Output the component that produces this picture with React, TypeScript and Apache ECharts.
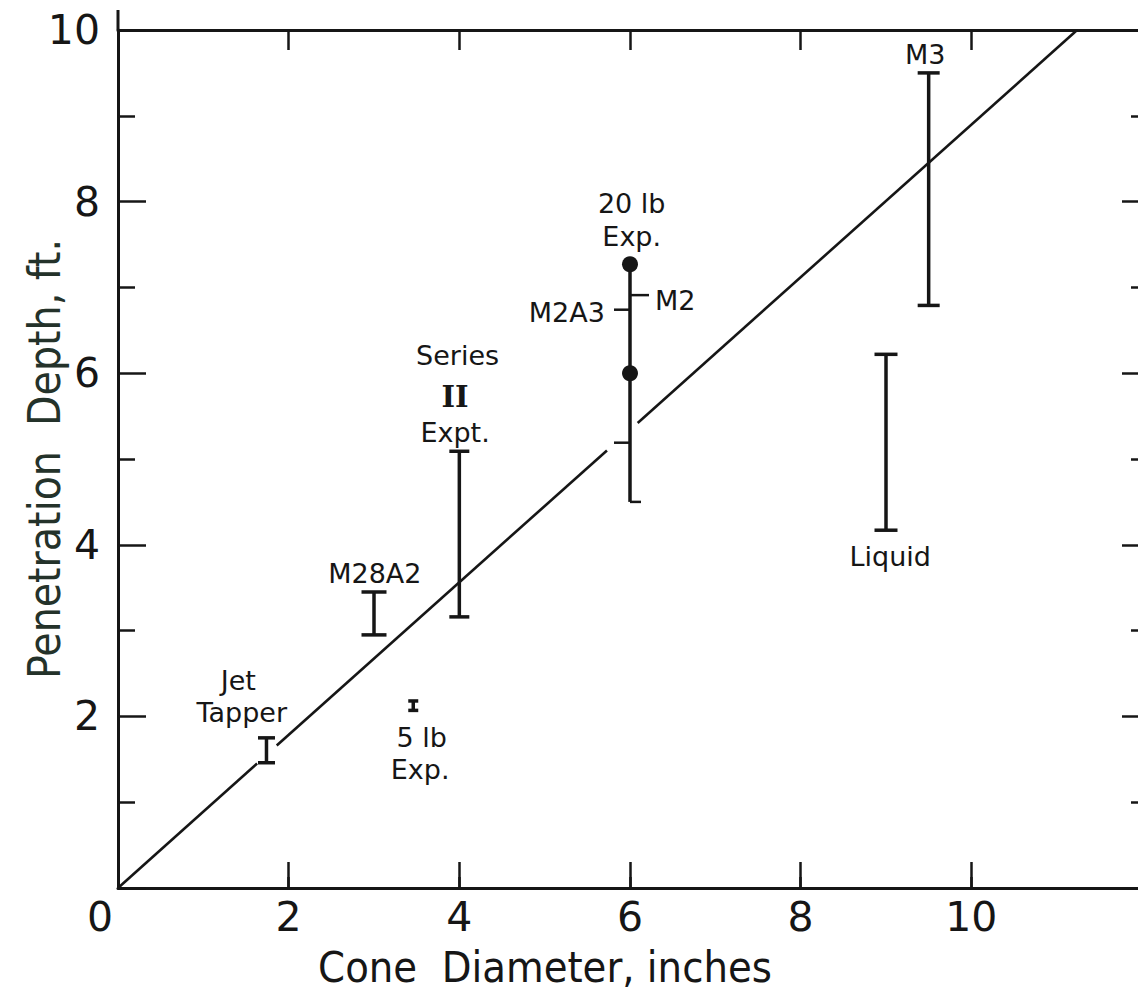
import React, { useEffect, useRef } from "react";
import * as echarts from "echarts";

// ---------- data ----------
const xTickValues = [0, 2, 4, 6, 8, 10];
const yTickValues = [2, 4, 6, 8, 10];

// fitted line, drawn as broken segments (x, y)
const fitSegA = [[0, 0], [1.63, 1.45]];
const fitSegB = [[1.86, 1.66], [5.73, 5.1]];
const fitSegC = [[6.09, 5.42], [11.24, 10]];
const fitSegments = [fitSegA, fitSegB, fitSegC];

// range bars
const rangeNames = ["Jet Tapper", "M28A2", "5 lb Exp.", "Series II Expt.", "M3", "Liquid"];
const rangeX = [1.74, 3.0, 3.46, 4.0, 9.5, 9.0];
const rangeLow = [1.46, 2.95, 2.07, 3.16, 6.79, 4.17];
const rangeHigh = [1.75, 3.45, 2.18, 5.09, 9.5, 6.22];

// 6-inch column (20 lb Exp., M2, M2A3)
const sixInchX = 6;
const sixInchLow = 4.5;
const sixInchHigh = 7.27;
const sixInchDots = [7.27, 6.0];
const sixInchMarks = [4.5, 5.19, 6.74, 6.91];

// annotations (data coordinates)
const noteTexts = ["Jet", "Tapper", "M28A2", "5 lb", "Exp.", "Series", "II", "Expt.", "20 lb", "Exp.", "M2A3", "M2", "M3", "Liquid"];
const noteX = [1.41, 1.45, 3.01, 3.56, 3.54, 3.98, 3.95, 3.95, 6.02, 6.02, 5.26, 6.53, 9.46, 9.05];
const noteY = [2.42, 2.05, 3.67, 1.75, 1.38, 6.21, 5.72, 5.31, 7.98, 7.59, 6.71, 6.85, 9.71, 3.86];

// ---------- style ----------
const INK = "#161616";
const FONT = "'DejaVu Sans', 'Noto Sans', sans-serif";
const SERIF = "'DejaVu Serif', 'Liberation Serif', serif";
const TITLE_FONT = "'DejaVu Sans Condensed', 'DejaVu Sans', sans-serif";
const capWidths = [17, 25, 10, 20, 22, 23];
const markSide = [1, -1, -1, 1];
const markLen = [11, 16, 16, 19];

export default function App() {
  const ref = useRef<HTMLDivElement>(null);

  useEffect(() => {
    if (!ref.current) return;
    const chart = echarts.init(ref.current, null, { renderer: "svg" });

    const gridBox = { left: 118, right: 8, top: 30, bottom: 103, containLabel: false, outerBoundsMode: "none" };

    const option: any = {
      animation: false,
      backgroundColor: "#ffffff",
      grid: [{ ...gridBox }, { ...gridBox }],
      xAxis: [
        {
          type: "value",
          gridIndex: 0,
          position: "bottom",
          min: 0,
          max: 12,
          interval: 2,
          axisLine: { show: true, onZero: false, lineStyle: { color: INK, width: 3 } },
          axisTick: { show: true, inside: true, length: 26, lineStyle: { color: INK, width: 2.5 } },
          axisLabel: {
            show: true,
            margin: 8,
            color: INK,
            fontSize: 41,
            fontFamily: FONT,
            showMaxLabel: false,
            formatter: (v: number) =>
              xTickValues.indexOf(v) < 0 ? "" : v === 0 ? "{z|0}" : String(v),
            rich: { z: { fontSize: 41, fontFamily: FONT, color: INK, padding: [0, 36, 0, 0] } },
          },
          splitLine: { show: false },
          name: "Cone  Diameter, inches",
          nameLocation: "middle",
          nameGap: 57,
          nameMoveOverlap: false,
          nameTextStyle: {
            color: INK,
            fontSize: 43,
            fontFamily: TITLE_FONT,
            padding: [0, 170, 0, 0],
          },
        },
        {
          type: "value",
          gridIndex: 0,
          position: "top",
          min: 0,
          max: 12,
          interval: 2,
          axisLine: { show: true, onZero: false, lineStyle: { color: INK, width: 3 } },
          axisTick: { show: true, inside: true, length: 20, lineStyle: { color: INK, width: 2.5 } },
          axisLabel: { show: false },
          splitLine: { show: false },
        },
        {
          type: "value",
          gridIndex: 1,
          position: "top",
          min: 0,
          max: 12,
          interval: 2,
          axisLine: { show: false },
          axisTick: { show: true, inside: false, length: 11, lineStyle: { color: INK, width: 2.5 } },
          axisLabel: { show: false },
          splitLine: { show: false },
        },
      ],
      yAxis: [
        {
          type: "value",
          gridIndex: 0,
          position: "left",
          min: 0,
          max: 10,
          interval: 2,
          axisLine: { show: true, onZero: false, lineStyle: { color: INK, width: 3 } },
          axisTick: { show: true, inside: true, length: 28, lineStyle: { color: INK, width: 2.5 } },
          minorTick: { show: true, splitNumber: 2, length: 17, lineStyle: { color: INK, width: 2.5 } },
          axisLabel: {
            show: true,
            margin: 18,
            color: INK,
            fontSize: 41,
            fontFamily: FONT,
            formatter: (v: number) => (yTickValues.indexOf(v) < 0 ? "" : String(v)),
          },
          splitLine: { show: false },
          name: "Penetration  Depth, ft.",
          nameLocation: "middle",
          nameGap: 52,
          nameMoveOverlap: false,
          nameTextStyle: { color: "#24322a", fontSize: 44, fontFamily: TITLE_FONT },
        },
        {
          type: "value",
          gridIndex: 0,
          position: "right",
          min: 0,
          max: 10,
          interval: 2,
          axisLine: { show: true, onZero: false, lineStyle: { color: INK, width: 3 } },
          axisTick: { show: true, inside: true, length: 20, lineStyle: { color: INK, width: 2.5 } },
          minorTick: { show: true, splitNumber: 2, length: 11, lineStyle: { color: INK, width: 2.5 } },
          axisLabel: { show: false },
          splitLine: { show: false },
        },
        {
          type: "value",
          gridIndex: 1,
          min: 0,
          max: 10,
          show: false,
        },
      ],
      series: [
        ...fitSegments.map((seg) => ({
          type: "line",
          xAxisIndex: 0,
          yAxisIndex: 0,
          data: seg,
          symbol: "none",
          silent: true,
          lineStyle: { color: INK, width: 2.6 },
        })),
        {
          type: "custom",
          xAxisIndex: 0,
          yAxisIndex: 0,
          silent: true,
          data: rangeX.map((x, i) => [x, rangeLow[i], rangeHigh[i]]),
          renderItem: (params: any, api: any) => {
            const x = api.value(0);
            const top = api.coord([x, api.value(2)]);
            const bot = api.coord([x, api.value(1)]);
            const w = capWidths[params.dataIndex] / 2;
            const st = { stroke: INK, lineWidth: 3.5 };
            return {
              type: "group",
              children: [
                { type: "line", shape: { x1: top[0], y1: top[1], x2: bot[0], y2: bot[1] }, style: st },
                { type: "line", shape: { x1: top[0] - w, y1: top[1], x2: top[0] + w, y2: top[1] }, style: st },
                { type: "line", shape: { x1: bot[0] - w, y1: bot[1], x2: bot[0] + w, y2: bot[1] }, style: st },
              ],
            };
          },
        },
        {
          type: "custom",
          xAxisIndex: 0,
          yAxisIndex: 0,
          silent: true,
          data: [[sixInchX, sixInchLow, sixInchHigh]],
          renderItem: (params: any, api: any) => {
            const x = api.value(0);
            const top = api.coord([x, api.value(2)]);
            const bot = api.coord([x, api.value(1)]);
            const st = { stroke: INK, lineWidth: 3.5 };
            const children: any[] = [
              { type: "line", shape: { x1: top[0], y1: top[1], x2: bot[0], y2: bot[1] }, style: st },
            ];
            sixInchMarks.forEach((m, i) => {
              const p = api.coord([x, m]);
              children.push({
                type: "line",
                shape: { x1: p[0], y1: p[1], x2: p[0] + markSide[i] * markLen[i], y2: p[1] },
                style: { stroke: INK, lineWidth: 2.5 },
              });
            });
            return { type: "group", children };
          },
        },
        {
          type: "scatter",
          xAxisIndex: 0,
          yAxisIndex: 0,
          silent: true,
          data: sixInchDots.map((y) => [sixInchX, y]),
          symbol: "circle",
          symbolSize: 16,
          itemStyle: { color: INK, opacity: 1 },
        },
        {
          type: "custom",
          xAxisIndex: 0,
          yAxisIndex: 0,
          silent: true,
          data: noteX.map((x, i) => [x, noteY[i]]),
          renderItem: (params: any, api: any) => {
            const p = api.coord([api.value(0), api.value(1)]);
            const t = noteTexts[params.dataIndex];
            const roman = t === "II";
            return {
              type: "text",
              x: p[0],
              y: p[1],
              style: {
                text: t,
                fill: INK,
                fontSize: roman ? 29 : 27,
                fontWeight: roman ? "bold" : "normal",
                fontFamily: roman ? SERIF : FONT,
                align: "center",
                verticalAlign: "middle",
              },
            };
          },
        },
      ],
    };

    chart.setOption(option);

    const corner = chart.convertToPixel({ xAxisIndex: 0, yAxisIndex: 0 }, [0, 10]) as number[];
    chart.setOption({
      graphic: [
        {
          type: "line",
          shape: { x1: corner[0], y1: corner[1] - 20, x2: corner[0], y2: corner[1] },
          style: { stroke: INK, lineWidth: 3 },
          silent: true,
        },
      ],
    });

    return () => chart.dispose();
  }, []);

  return (
    <div
      style={{
        position: "fixed",
        left: 0,
        top: 0,
        width: 1138,
        height: 991,
        overflow: "hidden",
        background: "#ffffff",
      }}
    >
      <div ref={ref} style={{ width: 1150, height: 991 }} />
    </div>
  );
}
